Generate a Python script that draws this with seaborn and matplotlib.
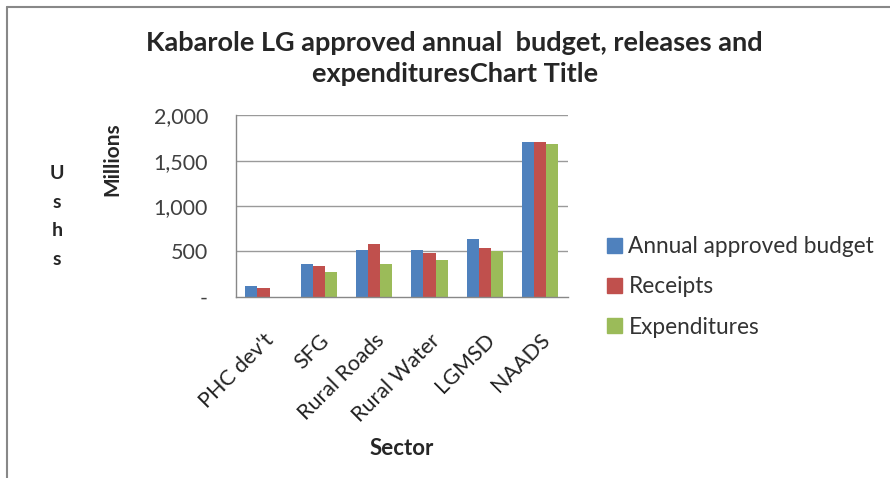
import pandas as pd
import matplotlib.pyplot as plt
import seaborn as sns
from matplotlib.lines import Line2D

# data (UGX millions)
sectors = ["PHC dev't", "SFG", "Rural Roads", "Rural Water", "LGMSD", "NAADS"]
series_names = ["Annual approved budget", "Receipts", "Expenditures"]
budget = [115, 362, 514, 514, 635, 1703]
receipts = [95, 341, 583, 488, 539, 1703]
expenditures = [0, 275, 363, 407, 506, 1685]
colors = ["#4F81BD", "#C0504D", "#9BBB59"]


def main():
    df = pd.DataFrame({"Sector": sectors,
                       series_names[0]: budget,
                       series_names[1]: receipts,
                       series_names[2]: expenditures})
    df = df.melt(id_vars="Sector", var_name="Series", value_name="Value")

    sns.set_style("white")
    plt.rcParams["font.family"] = ["Lato", "DejaVu Sans"]

    fig = plt.figure(figsize=(8.9, 4.78), dpi=100)
    ax = fig.add_axes([0.265, 0.379, 0.373, 0.380])

    sns.barplot(data=df, x="Sector", y="Value", hue="Series",
                palette=colors, width=0.66, ax=ax, legend=False,
                saturation=1, edgecolor="none")

    ax.set_xlim(-0.5, len(sectors) - 0.5)
    ax.set_ylim(0, 2000)
    ax.set_yticks([0, 500, 1000, 1500, 2000])
    ax.set_yticklabels(["-", "500", "1,000", "1,500", "2,000"],
                       fontsize=15.5, color="#404040")
    for y in [500, 1000, 1500, 2000]:
        ax.axhline(y, color="#9a9a9a", lw=1, zorder=0)

    # Excel-style ticks between categories
    ax.set_xticks(range(len(sectors)))
    ax.set_xticklabels(sectors, rotation=45, ha="right",
                       rotation_mode="anchor", fontsize=15.5, color="#222222")
    ax.set_xticks([i - 0.5 for i in range(len(sectors) + 1)], minor=True)
    ax.tick_params(axis="x", which="major", length=0, pad=24)
    ax.tick_params(axis="x", which="minor", length=5, color="#888888",
                   direction="out")
    ax.tick_params(axis="y", length=5, color="#888888", direction="out",
                   pad=15)

    for side in ["top", "right"]:
        ax.spines[side].set_visible(False)
    for side in ["left", "bottom"]:
        ax.spines[side].set_color("#888888")
        ax.spines[side].set_linewidth(1)

    ax.set_xlabel("Sector", fontsize=16, fontweight="bold", labelpad=9)
    ax.set_ylabel("")
    fig.text(0.126, 0.667, "Millions", rotation=90, ha="center", va="center",
             fontsize=15, fontweight="bold")
    fig.text(0.064, 0.547, "U\ns\nh\ns", ha="center", va="center",
             fontsize=14, fontweight="bold", linespacing=1.85)

    fig.suptitle("Kabarole LG approved annual  budget, releases and\n"
                 "expendituresChart Title", x=0.511, y=0.935,
                 fontsize=19.5, fontweight="bold", linespacing=1.35)

    handles = [plt.Rectangle((0, 0), 1, 1, color=c) for c in colors]
    fig.legend(handles, series_names, loc="center left",
               bbox_to_anchor=(0.682, 0.40), frameon=False, fontsize=16.3,
               handlelength=0.65, handleheight=0.65, handletextpad=0.3,
               labelspacing=0.85, labelcolor="#333333",
               borderpad=0, borderaxespad=0)

    # chart-area border (top and left only)
    fig.add_artist(Line2D([0.008, 1.0], [0.985, 0.985], color="#888888", lw=1.5))
    fig.add_artist(Line2D([0.008, 0.008], [0.0, 0.985], color="#888888", lw=1.5))

    fig.savefig("out.png", dpi=100)
    plt.close(fig)


if __name__ == "__main__":
    main()
